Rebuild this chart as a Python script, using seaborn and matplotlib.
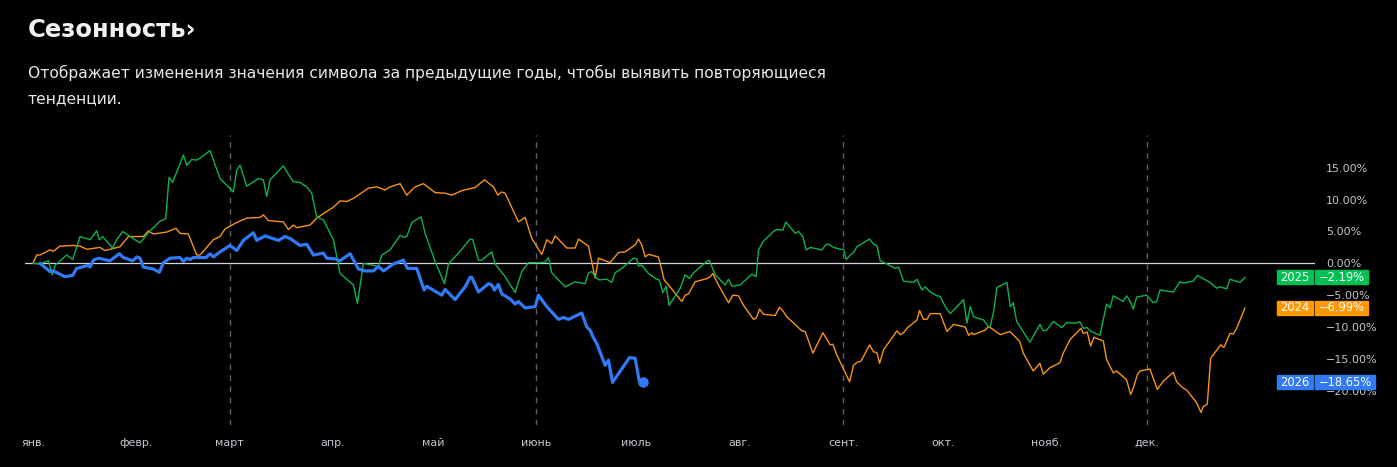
"""Сезонность: изменение цены символа по годам (2024, 2025, 2026)."""
import matplotlib
matplotlib.use("Agg")
import matplotlib.pyplot as plt
from matplotlib.patches import Rectangle
import seaborn as sns

# день года и изменение в % от начала года
DAYS_2024 = [0, 1.1, 2.1, 5.1, 6.1, 8.1, 12.1, 14.1, 16.1, 20.1, 21.6, 26.1, 28.6, 33.1, 34.6, 36.1, 40.1, 42.9,
             44.1, 46.6, 49.1, 50.1, 54.1, 56.1, 57.6, 61.1, 64.1, 68.1, 69.1, 70.6, 75.1, 76.6, 78.1, 79.1, 83.1,
             85.1, 87.1, 90.1, 92.1, 94.1, 96.1, 98.1, 100.6, 103.1, 105.6, 107.1, 110.1, 112.1, 114.6, 117.1,
             120.6, 123.6, 125.6, 128.6, 132.6, 135.4, 138.1, 139.4, 140.6, 141.6, 145.6, 147.6, 149.6, 152.6,
             154.1, 155.6, 156.6, 160.1, 162.6, 163.6, 166.6, 168.6, 169.6, 173.1, 175.6, 177.6, 180.6, 181.6,
             182.6, 183.6, 184.6, 187.6, 189.3, 190.6, 194.6, 195.6, 196.6, 198.6, 202.1, 203.1, 203.9, 205.6,
             208.6, 209.9, 211.6, 213.1, 216.1, 216.9, 217.9, 219.1, 222.6, 223.9, 225.1, 226.1, 230.6, 231.6,
             233.9, 236.9, 239.1, 239.9, 241.1, 244.9, 246.1, 247.3, 248.3, 250.9, 252.1, 253.1, 253.9, 255.1,
             259.1, 260.1, 261.1, 262.1, 265.1, 265.9, 267.1, 268.1, 269.1, 272.1, 274.1, 276.1, 279.6, 280.6,
             281.6, 282.1, 285.6, 286.6, 290.1, 293, 296, 297, 300, 302, 303, 305, 308, 309, 311, 314.3, 315,
             316.2, 317.2, 318.2, 321, 322, 324, 325, 328, 329.2, 330, 331.2, 332, 335, 337.2, 339, 342, 343,
             345, 346, 348, 349, 350.3, 351, 352.2, 353.2, 356.2, 357.2, 359, 360, 361, 363.5]
VALS_2024 = [0, 1.3, 1.3, 2.1, 1.9, 2.7, 2.8, 2.7, 2.2, 2.5, 2.0, 2.6, 4.2, 4.2, 5.1, 4.6, 4.9, 5.5,
             4.7, 4.6, 1.3, 1.3, 3.7, 4.2, 5.4, 6.4, 7.1, 7.2, 7.6, 6.7, 6.5, 5.3, 6.0, 5.6, 6.0,
             7.1, 7.8, 8.8, 9.8, 9.7, 10.2, 10.9, 11.8, 12.0, 11.5, 12.0, 12.5, 10.7, 12.0, 12.5,
             11.1, 11.0, 10.7, 11.4, 11.9, 13.1, 12.0, 10.7, 11.2, 11.0, 6.5, 7.2, 3.9, 1.4,
             3.7, 3.1, 4.3, 2.4, 2.4, 3.8, 2.7, -2.3, 0.8, 0.1, 1.7, 1.8, 2.9, 3.8,
             2.9, 1.0, 1.4, 1.0, -2.6, -3.4, -6.0, -5.0, -4.8, -2.9, -2.4, -2.1, -1.6, -3.4,
             -6.2, -5.0, -5.1, -6.6, -8.8, -8.6, -7.2, -8.0, -8.2, -6.9, -7.6, -8.4, -10.6, -10.7,
             -14.1, -10.9, -12.8, -12.7, -14.4, -18.6, -16.0, -15.5, -15.4, -12.8, -13.9, -14.0, -15.7, -13.6,
             -10.6, -11.2, -10.9, -10.2, -8.9, -7.4, -8.8, -8.8, -7.9, -7.9, -10.7, -9.6, -10.0, -11.3,
             -10.9, -11.2, -10.5, -9.9, -11.2, -10.7, -12.3, -14.1, -16.9, -15.7, -17.4, -16.4, -15.6, -14.1, -12.0, -10.2, -11.0,
             -10.8, -13.0, -11.6, -12.2, -15.1, -17.2, -16.9, -18.3, -20.6, -19.6, -17.5, -16.9, -16.6, -19.8, -18.5, -17.1, -18.6,
             -19.6, -19.9, -21.2, -21.9, -23.4, -22.5, -22.1, -14.9, -12.8, -13.2, -11.0, -11.1, -10.2, -6.99]

DAYS_2025 = [0, 2.1, 4.6, 5.8, 6.6, 10.1, 11.9, 14.1, 17.1, 19.1, 19.9, 20.9, 23.9, 25.1, 26.9, 29.1, 32.1, 35.1,
             38.1, 39.8, 40.8, 41.9, 45.1, 46.1, 47.6, 49.1, 50.6, 53.1, 56.1, 60.1, 61.1, 62.1, 64.1, 67.6,
             69.1, 70.1, 71.1, 75.1, 76.1, 78.1, 80.1, 82.1, 83.6, 85.1, 87.1, 90.1, 92.1, 96.1, 97.3, 99.1,
             103.6, 104.6, 107.1, 110.1, 111.1, 112.1, 113.6, 116.4, 117.6, 120.6, 123.4, 124.6, 128.1, 131.1,
             131.9, 133.6, 134.6, 137.6, 138.6, 141.6, 144.6, 146.6, 148.6, 152.1, 153.6, 154.6, 155.6, 159.6,
             162.6, 165.6, 166.6, 167.6, 168.6, 169.8, 172.1, 173.6, 174.6, 176.6, 180.1, 181.1, 181.6, 182.6,
             184.6, 187.1, 187.8, 188.9, 189.9, 190.8, 194.1, 195.6, 196.9, 198.1, 202.1, 202.8, 204.6, 207.6,
             208.6, 209.6, 212.1, 215.6, 216.9, 217.6, 219.1, 222.1, 223.1, 224.9, 225.8, 228.6, 229.6, 230.9,
             231.9, 233.1, 236.6, 237.9, 238.6, 240.1, 242.1, 243.1, 243.9, 245.1, 246.1, 247.1, 250.9, 252.1,
             253.1, 254.1, 256.1, 258.6, 259.6, 261.1, 264.1, 265.1, 266.6, 267.6, 269.1, 271.1, 272.1, 273.6,
             275.1, 279.1, 280.1, 281.1, 282.1, 285.1, 286.6, 287.1, 288.1, 289.1, 292.1, 293.1, 294, 295, 299,
             302, 303, 304, 306, 308.5, 310, 312.5, 314, 315, 316.2, 317, 320, 322, 323, 324, 327, 328, 329,
             330, 331, 334, 336, 337, 338, 342, 344, 345, 348, 349.2, 353, 355, 356, 358, 359, 362, 363.5]
VALS_2025 = [0, -0.1, 0.4, -1.8, -0.3, 1.3, 0.6, 4.2, 3.7, 5.1, 3.7, 4.2, 2.4, 3.7, 5.0, 4.2, 3.2, 5.1,
             6.6, 7.0, 13.5, 12.7, 17.0, 15.4, 16.3, 16.2, 16.7, 17.7, 13.3, 11.2, 14.6, 15.4, 12.1, 13.3,
             13.1, 10.5, 13.1, 15.3, 14.4, 12.8, 12.7, 12.0, 11.0, 7.3, 6.8, 3.7, -1.6, -3.4, -6.3, 0,
             -0.5, 1.3, 2.1, 4.4, 4.1, 4.2, 6.4, 7.3, 4.7, 0.3, -3.2, -0.1, 1.9, 3.8,
             3.7, 0.5, 0.5, 1.8, -0.1, -2.1, -4.6, -1.3, 0.1, 0.1, 0.2, 0.9, -1.5, -3.7,
             -2.9, -3.2, -1.5, -1.3, -2.1, -2.6, -2.5, -3.0, -1.5, -0.8, 0.8, 0.7, -0.4, -0.3,
             -1.6, -2.5, -2.6, -4.6, -3.6, -6.6, -3.9, -1.8, -2.4, -1.5, 0.3, 0.5, -1.8, -3.4,
             -2.5, -3.6, -3.4, -1.7, -2.1, 2.1, 3.5, 5.0, 5.3, 5.2, 6.5, 4.7, 5.0, 4.2,
             2.1, 2.5, 2.1, 3.0, 3.0, 2.5, 2.2, 2.2, 0.6, 1.3, 1.7, 2.6, 3.8, 3.0,
             2.8, 0.4, -0.1, -0.8, -0.6, -2.8, -3.0, -2.5, -4.2, -3.7, -4.5, -5.1, -5.2, -6.8,
             -7.9, -5.7, -9.4, -6.8, -8.4, -8.9, -10.0, -9.9, -7.6, -3.8, -3.0, -6.8, -6.2, -9.1, -12.4,
             -9.6, -10.6, -10.5, -9.1, -10.1, -9.3, -9.4, -9.2, -10.2, -10.1, -10.6, -11.3, -6.4, -7.0, -5.1, -6.0, -5.1, -5.9,
             -7.2, -5.3, -5.0, -6.2, -6.0, -4.2, -4.5, -2.9, -3.1, -2.8, -1.9, -3.0, -3.9, -3.7, -4.0, -2.5, -3.0, -2.19]

DAYS_2026 = [2.1, 5.1, 6.1, 9.6, 11.9, 13.1, 16.6, 17.1, 18.1, 19.6, 23.1, 25.9, 27.1, 29.9, 31.1, 32.1, 33.1,
             36.1, 37.9, 39.1, 41.1, 44.1, 45.1, 46.1, 47.1, 48.1, 51.9, 53.1, 54.1, 56.1, 59.1, 61.1, 63.1,
             66.1, 67.1, 69.6, 73.6, 75.6, 77.1, 80.1, 82.1, 84.1, 87.1, 88.1, 90.6, 92.1, 95.1, 97.6, 99.6,
             102.1, 103.6, 105.1, 108.1, 111.1, 112.3, 115.1, 117.3, 118.1, 122.6, 123.6, 126.6, 129.6, 131.1,
             131.6, 133.6, 136.6, 137.6, 138.4, 139.6, 140.6, 143.1, 144.6, 145.6, 147.6, 150.6, 151.6, 154.1,
             157.6, 159.1, 160.6, 164.6, 166.1, 167.1, 167.9, 169.1, 171.6, 172.6, 173.8, 178.9, 180.6, 181.8,
             182.9]
VALS_2026 = [0, -1.3, -1.2, -2.1, -1.9, -0.8, -0.3, -0.6, 0.5, 0.8, 0.4, 1.5, 0.9, 0.4, 1.0, 0.8, -0.6,
             -0.9, -1.4, 0.1, 0.8, 0.9, 0.3, 0.8, 0.6, 0.9, 0.9, 1.5, 1.0, 1.8, 2.8, 2.0, 3.6,
             4.8, 3.6, 4.3, 3.6, 4.2, 3.9, 2.8, 3.0, 1.3, 1.6, 0.8, 0.7, 0.4, 1.5, -0.9, -1.2,
             -1.2, -0.5, -1.2, -0.1, 0.5, -0.8, -0.8, -4.2, -3.6, -5.0, -4.1, -5.7, -3.7, -2.2,
             -2.2, -4.5, -3.2, -3.4, -4.2, -3.3, -4.8, -5.6, -6.4, -6.0, -7.0, -6.8, -5.0, -6.8,
             -8.8, -8.5, -8.8, -7.8, -10.0, -10.5, -11.5, -12.6, -16.0, -15.2, -18.7, -14.8, -14.9, -18.4,
             -18.65]

MONTH_STARTS = [0, 31, 59, 90, 120, 151, 181, 212, 243, 273, 304, 334]
MONTHS = ["янв.", "февр.", "март", "апр.", "май", "июнь", "июль", "авг.", "сент.", "окт.", "нояб.", "дек."]
QUARTER_LINES = [59, 151, 243, 334]
Y_TICKS = [-20, -15, -10, -5, 0, 5, 10, 15]

GREEN, ORANGE, BLUE = "#0fb24e", "#f7931a", "#3179f5"
BADGE_GREEN, BADGE_ORANGE = "#00c152", "#ff9800"
W, H = 1397, 467


def pct(v):
    return f"{v:.2f}%".replace("-", "\u2212")


def main():
    sns.set_theme(style="dark", rc={"axes.facecolor": "black", "figure.facecolor": "black",
                                    "savefig.facecolor": "black", "axes.grid": False})
    plt.rcParams["font.family"] = ["DejaVu Sans"]
    fig = plt.figure(figsize=(W / 100, H / 100), dpi=100)
    ax = fig.add_axes([25 / W, 1 - 425 / H, 1290 / W, 290 / H])

    for d in QUARTER_LINES:
        ax.axvline(d, color="#5d606b", lw=1, dashes=(4, 4), zorder=1)
    ax.axhline(0, color="#d1d4dc", lw=0.9, zorder=2)

    sns.lineplot(x=DAYS_2024, y=VALS_2024, ax=ax, color=ORANGE, lw=1.0, estimator=None, sort=False, zorder=3)
    sns.lineplot(x=DAYS_2025, y=VALS_2025, ax=ax, color=GREEN, lw=1.0, estimator=None, sort=False, zorder=4)
    sns.lineplot(x=DAYS_2026, y=VALS_2026, ax=ax, color=BLUE, lw=2.3, estimator=None, sort=False, zorder=5)
    ax.plot(DAYS_2026[-1], VALS_2026[-1], "o", color=BLUE, ms=6.5, zorder=6)

    ax.set_xlim(-2.4, 384.5)
    ax.set_ylim(-25.38, 20.14)
    ax.set_xlabel(""); ax.set_ylabel("")
    for s in ax.spines.values():
        s.set_visible(False)
    ax.set_xticks(MONTH_STARTS, MONTHS)
    ax.yaxis.tick_right()
    ax.set_yticks(Y_TICKS, [pct(v) for v in Y_TICKS])
    ax.tick_params(axis="x", length=0, pad=9, labelsize=8, labelcolor="#c3c6ce")
    ax.tick_params(axis="y", length=0, pad=8, labelsize=8, labelcolor="#c3c6ce")

    fig.text(28 / W, 1 - 30 / H, "Сезонность›", color="#f0f0f0", fontsize=17.5, weight="bold", va="center")
    fig.text(28 / W, 1 - 73 / H, "Отображает изменения значения символа за предыдущие годы, чтобы выявить повторяющиеся",
             color="#e8e8e8", fontsize=11.2, va="center")
    fig.text(28 / W, 1 - 99 / H, "тенденции.", color="#e8e8e8", fontsize=11.2, va="center")

    # плашки с последними значениями
    fig.canvas.draw()
    badges = [("2025", VALS_2025[-1], BADGE_GREEN, 53), ("2024", VALS_2024[-1], BADGE_ORANGE, 53),
              ("2026", VALS_2026[-1], BLUE, 60)]
    for year, val, col, vw in badges:
        yc = ax.transData.transform((0, val))[1]
        fig.patches.append(Rectangle((1277 / W, (yc - 7) / H), 36 / W, 14 / H, transform=fig.transFigure,
                                     color=col, zorder=10))
        fig.patches.append(Rectangle((1315 / W, (yc - 7) / H), vw / W, 14 / H, transform=fig.transFigure,
                                     color=col, zorder=10))
        fig.text(1295 / W, yc / H, year, color="white", fontsize=8.3, ha="center", va="center", zorder=11)
        fig.text((1315 + vw / 2) / W, yc / H, pct(val), color="white", fontsize=8.3, ha="center", va="center",
                 zorder=11)

    fig.savefig("out.png", dpi=100)
    plt.close(fig)


if __name__ == "__main__":
    main()
